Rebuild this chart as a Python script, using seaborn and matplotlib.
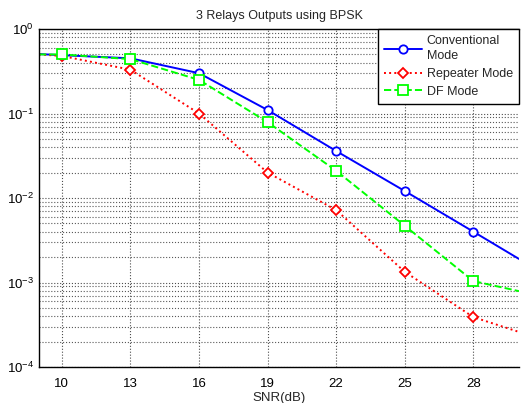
import numpy as np
import pandas as pd
import matplotlib
matplotlib.use("Agg")
import matplotlib.pyplot as plt
import seaborn as sns
from matplotlib.ticker import LogLocator, FixedLocator

# Data
snr = [9, 10, 13, 16, 19, 22, 25, 28, 30]
conventional = [0.505, 0.49, 0.45, 0.30, 0.11, 0.036, 0.0121, 0.0040, 0.0019]
repeater = [0.50, 0.48, 0.33, 0.10, 0.020, 0.0072, 0.00134, 0.00039, 0.00026]
df_mode = [0.50, 0.50, 0.44, 0.25, 0.079, 0.021, 0.0047, 0.00104, 0.00079]
xticks = [10, 13, 16, 19, 22, 25, 28]
labels = ["Conventional\nMode", "Repeater Mode", "DF Mode"]

sns.set_style("white")
plt.rcParams["font.family"] = ["Liberation Sans", "DejaVu Sans"]
plt.rcParams["mathtext.fontset"] = "custom"
plt.rcParams["mathtext.rm"] = "Liberation Sans"
plt.rcParams["mathtext.it"] = "Liberation Sans"

fig = plt.figure(figsize=(5.24, 4.03), dpi=100)
ax = fig.add_axes([39/524, (403-367)/403, 480/524, 338/403])

mk = slice(1, -1)
sns.lineplot(x=snr, y=conventional, ax=ax, color=(0, 0, 1), linestyle="-", lw=1.4,
             marker="o", markersize=6, markerfacecolor="white", markeredgecolor=(0, 0, 1),
             markeredgewidth=1.3, markevery=mk, label=labels[0])
sns.lineplot(x=snr, y=repeater, ax=ax, color=(1, 0, 0), linestyle=":", lw=1.4,
             marker="D", markersize=5.5, markerfacecolor="white", markeredgecolor=(1, 0, 0),
             markeredgewidth=1.3, markevery=mk, label=labels[1])
sns.lineplot(x=snr, y=df_mode, ax=ax, color=(0, 1, 0), linestyle="--", lw=1.4,
             marker="s", markersize=7, markerfacecolor="white", markeredgecolor=(0, 1, 0),
             markeredgewidth=1.3, markevery=mk, label=labels[2])

ax.set_yscale("log")
ax.set_xlim(9, 30)
ax.set_ylim(1e-4, 1)
ax.xaxis.set_major_locator(FixedLocator(xticks))
ax.set_xticklabels([str(t) for t in xticks])
ax.yaxis.set_major_locator(LogLocator(base=10, numticks=10))
ax.yaxis.set_minor_locator(LogLocator(base=10, subs=np.arange(2, 10), numticks=20))
ax.yaxis.set_minor_formatter(matplotlib.ticker.NullFormatter())

ax.grid(True, which="major", axis="both", color="0.3", linestyle=":", linewidth=0.8)
ax.grid(True, which="minor", axis="y", color="0.35", linestyle=":", linewidth=0.8)
ax.tick_params(axis="both", which="both", direction="in", labelsize=9.5, colors="black")
ax.tick_params(axis="both", which="major", length=4)
ax.tick_params(axis="y", which="minor", length=2)
ax.tick_params(axis="x", which="major", pad=8)

for s in ["left", "bottom", "top"]:
    ax.spines[s].set_visible(True)
    ax.spines[s].set_color("black")
    ax.spines[s].set_linewidth(1.0)
ax.spines["right"].set_visible(False)

ax.set_title("3 Relays Outputs using BPSK", fontsize=9, pad=7)
ax.set_xlabel("SNR(dB)", fontsize=9.5, labelpad=1)

leg = ax.legend(loc="upper right", fontsize=9, frameon=True, fancybox=False,
                edgecolor="black", framealpha=1, borderaxespad=0, handlelength=3.0,
                borderpad=0.5, labelspacing=0.45, handletextpad=0.4)
leg.get_frame().set_linewidth(1.0)
for t in leg.get_texts():
    t.set_linespacing(1.35)

fig.savefig("out.png", dpi=100)
